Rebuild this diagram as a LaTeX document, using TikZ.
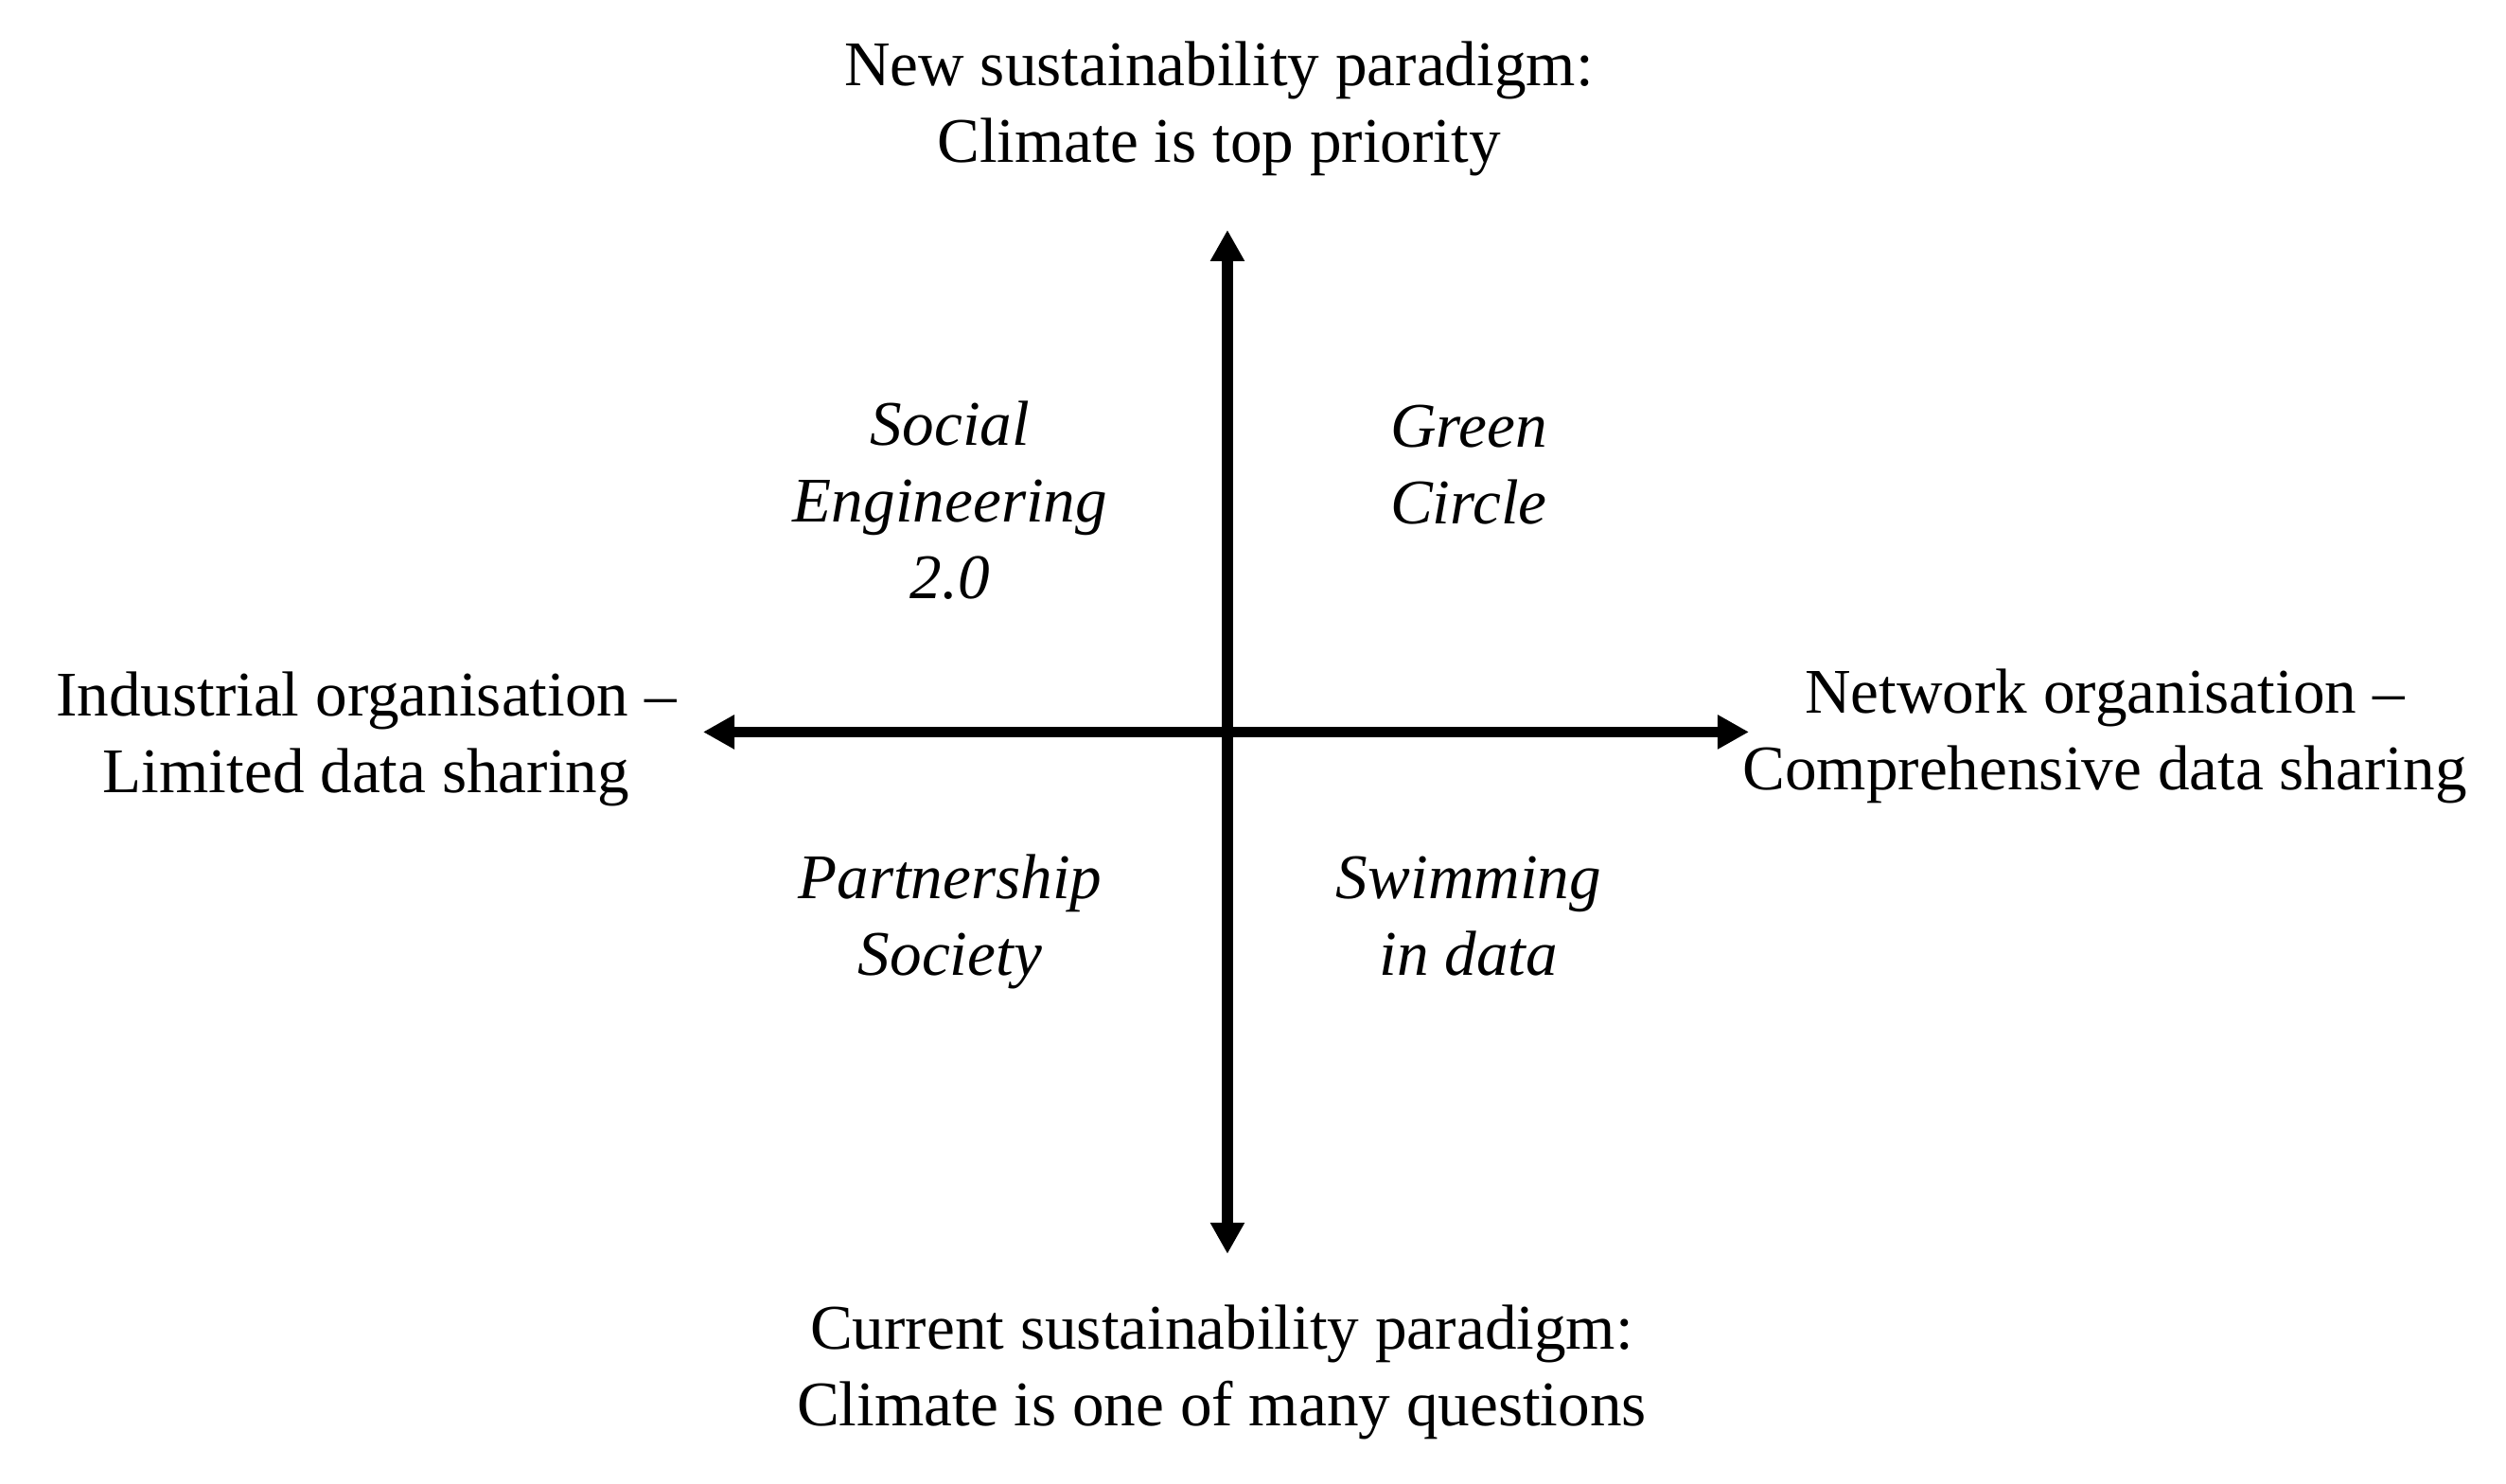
\documentclass[tikz,border=0pt]{standalone}
\usepackage{fontspec}
\setmainfont{Liberation Serif}
\usetikzlibrary{arrows.meta}

\begin{document}
\begin{tikzpicture}[
		axis/.style = {line width = 2.15pt, {Triangle[length=6.2pt,width=6.4pt]}-{Triangle[length=6.2pt,width=6.4pt]}},
		pole/.style = {align = center, anchor = base, inner sep = 0pt, font = \fontsize{12.6}{15.2}\selectfont},
		scen/.style = {pole, font = \fontsize{12.6}{15.2}\selectfont\itshape}]
						\useasboundingbox (-8.547,-5.236) rectangle (8.903,5.097);
						
						\coordinate (north) at (0,3.496);
						\coordinate (south) at (0,-3.634);
						\coordinate (west) at (-3.651,0);
						\coordinate (east) at (3.631,0);
						
						\draw[axis] (west) -- (east);
						\draw[axis] (south) -- (north);
						
						% anchor = base sits on the last line
						\node[pole] (newpar) at (-0.059,3.964) {New sustainability paradigm:\\Climate is top priority};
						\node[pole] (curpar) at (-0.040,-4.834) {Current sustainability paradigm:\\Climate is one of many questions};
						\node[pole] (indorg) at (-5.997,-0.425) {Industrial organisation \textendash\\Limited data sharing};
						\node[pole] (netorg) at (6.109,-0.405) {Network organisation \textendash\\Comprehensive data sharing};
						
						\node[scen] (soceng) at (-1.931,0.926) {Social\\Engineering\\2.0};
						\node[scen] (green) at (1.680,1.447) {Green\\Circle};
						\node[scen] (partner) at (-1.931,-1.697) {Partnership\\Society};
						\node[scen] (swim) at (1.680,-1.697) {Swimming\\in data};
						
					\end{tikzpicture}
\end{document}
